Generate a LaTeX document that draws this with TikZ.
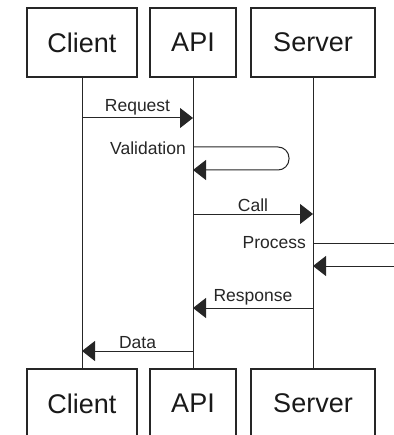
\documentclass[tikz,border=0pt]{standalone}
\usepackage{fontspec}
\setmainfont{Liberation Sans}
\usetikzlibrary{arrows.meta}

\tikzset{
    actor/.style={draw=black!85, line width=1.2pt, inner sep=0pt,
        minimum height=69pt, text=black!90, font=\fontsize{27}{30}\selectfont},
    life/.style={draw=black!85, line width=1pt},
    msg/.style={life, -{Triangle[length=13pt,width=20pt]}},
    lbl/.style={font=\fontsize{17.5}{19}\selectfont, text=black!85, inner sep=2pt}
}

\begin{document}
\begin{tikzpicture}[x=1pt,y=-1pt]
\useasboundingbox (0,0) rectangle (393,435);

% Top boxes
\node[actor, minimum width=110pt] (clientT) at (82,42.5) {Client};
\node[actor, minimum width=86pt] (apiT) at (193,42.5) {API};
\node[actor, minimum width=124pt] (serverT) at (313,42.5) {Server};

% Bottom boxes
\node[actor, minimum width=110pt] (clientB) at (82,403.5) {Client};
\node[actor, minimum width=86pt] (apiB) at (193,403.5) {API};
\node[actor, minimum width=124pt] (serverB) at (313,403.5) {Server};

% Lifelines
\draw[life] (clientT) -- (clientB);
\draw[life] (apiT) -- (apiB);
\draw[life] (serverT) -- (serverB);

% Message heights
\coordinate (req) at (0,118);
\coordinate (val1) at (0,147);
\coordinate (val2) at (0,170);
\coordinate (call) at (0,214);
\coordinate (proc1) at (0,243);
\coordinate (proc2) at (0,266);
\coordinate (resp) at (0,308);
\coordinate (data) at (0,351);

% Free ends of Process
\coordinate (procOut) at (420,243);
\coordinate (procIn) at (420,266);

% Request
\draw[msg] (clientT |- req) -- (apiT |- req) node[midway, above, lbl] {Request};

% Validation (self call)
\draw[msg, rounded corners=11pt] (apiT |- val1) -- ++(96,0) -- ++(0,23) -- (apiT |- val2);
\node[lbl, anchor=east, xshift=-5pt, yshift=-1pt] at (apiT |- val1) {Validation};

% Call
\draw[msg] (apiT |- call) -- (serverT |- call) node[midway, above, lbl] {Call};

% Process
\draw[life] (serverT |- proc1) -- (procOut);
\draw[msg] (procIn) -- (serverT |- proc2);
\node[lbl, anchor=east, xshift=-5pt] at (serverT |- proc1) {Process};

% Response
\draw[msg] (serverT |- resp) -- (apiT |- resp) node[midway, above, lbl] {Response};

% Data
\draw[msg] (apiT |- data) -- (clientT |- data) node[midway, above, lbl] {Data};

\end{tikzpicture}
\end{document}
